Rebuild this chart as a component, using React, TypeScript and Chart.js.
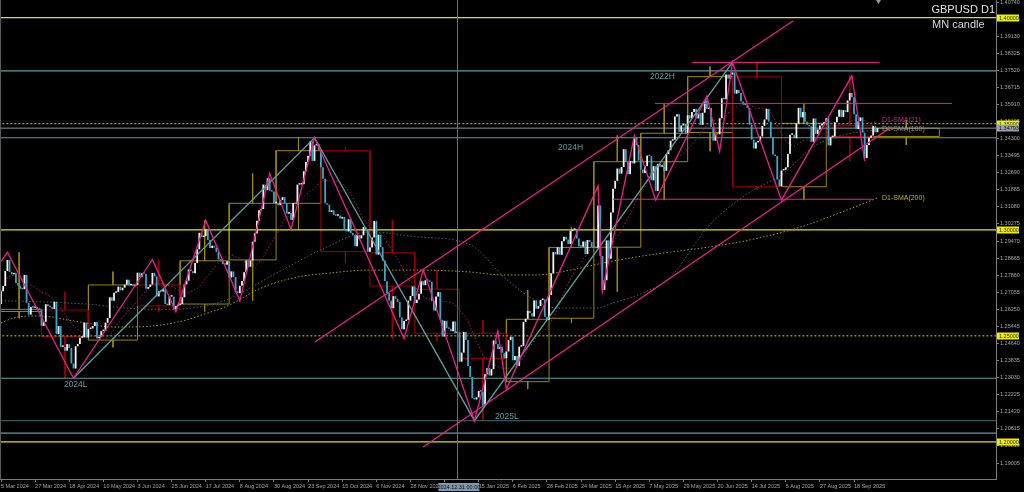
import React, { useEffect, useRef } from 'react';
import { Chart, registerables } from 'chart.js';

Chart.register(...registerables);

// ---------------- DATA ----------------
const firstOpen = 1.265;
const closesMar2024 = [1.2710,1.2735,1.2806,1.2858,1.2801,1.2790,1.2797,1.2749,1.2737,1.2722,1.2720,1.2787,1.2656,1.2600,1.2636,1.2632,1.2637,1.2624,1.2623];
const closesApr2024 = [1.2547,1.2566,1.2649,1.2640,1.2635,1.2627,1.2661,1.2508,1.2546,1.2448,1.2448,1.2430,1.2461,1.2443,1.2370,1.2346,1.2451,1.2462,1.2491,1.2493,1.2562,1.2492];
const closesMay2024 = [1.2532,1.2535,1.2546,1.2565,1.2489,1.2494,1.2522,1.2524,1.2562,1.2584,1.2682,1.2665,1.2703,1.2707,1.2732,1.2715,1.2727,1.2741,1.2765,1.2738,1.2742,1.2734,1.2740];
const closesJun2024 = [1.2798,1.2777,1.2795,1.2793,1.2722,1.2730,1.2742,1.2797,1.2780,1.2686,1.2710,1.2709,1.2720,1.2650,1.2645,1.2685,1.2685,1.2625,1.2641,1.2645];
const closesJul2024 = [1.2650,1.2682,1.2743,1.2760,1.2813,1.2805,1.2795,1.2843,1.2908,1.2986,1.2966,1.2970,1.3002,1.2952,1.2914,1.2925,1.2916,1.2895,1.2860,1.2854,1.2838,1.2835,1.2852];
const closesAug2024 = [1.2775,1.2804,1.2777,1.2705,1.2702,1.2736,1.2759,1.2800,1.2856,1.2826,1.2856,1.2944,1.2983,1.3043,1.3092,1.3098,1.3213,1.3187,1.3243,1.3184,1.3180,1.3125];
const closesSep2024 = [1.3126,1.3116,1.3140,1.3154,1.3126,1.3076,1.3079,1.3046,1.3126,1.3121,1.3213,1.3214,1.3215,1.3276,1.3320,1.3349,1.3417,1.3325,1.3398,1.3404,1.3375];
const closesOct2024 = [1.3295,1.3241,1.3125,1.3118,1.3084,1.3092,1.3070,1.3066,1.3068,1.3053,1.3061,1.2997,1.2992,1.3050,1.2985,1.2976,1.2922,1.2975,1.2959,1.2974,1.3013,1.3002,1.2897];
const closesNov2024 = [1.2917,1.2964,1.3042,1.2883,1.2977,1.2918,1.2855,1.2758,1.2702,1.2666,1.2630,1.2687,1.2675,1.2660,1.2587,1.2531,1.2570,1.2575,1.2666,1.2688,1.2733];
const closesDec2024 = [1.2655,1.2671,1.2699,1.2758,1.2739,1.2762,1.2760,1.2755,1.2664,1.2619,1.2685,1.2706,1.2576,1.2497,1.2571,1.2536,1.2533,1.2522,1.2568,1.2513,1.2516];
const closesJan2025 = [1.2378,1.2421,1.2518,1.2481,1.2358,1.2306,1.2206,1.2200,1.2210,1.2240,1.2237,1.2170,1.2319,1.2348,1.2313,1.2343,1.2478,1.2461,1.2438,1.2449,1.2420,1.2394];
const closesFeb2025 = [1.2426,1.2480,1.2496,1.2385,1.2405,1.2359,1.2449,1.2453,1.2566,1.2581,1.2618,1.2607,1.2591,1.2667,1.2628,1.2640,1.2669,1.2672,1.2590,1.2576];
const closesMar2025 = [1.2693,1.2795,1.2895,1.2884,1.2917,1.2882,1.2946,1.2967,1.2954,1.2933,1.2994,1.3000,1.3000,1.2959,1.2921,1.2920,1.2945,1.2885,1.2952,1.2942,1.2918];
const closesApr2025 = [1.2914,1.2913,1.3115,1.2877,1.2717,1.2762,1.2950,1.2864,1.3082,1.3194,1.3231,1.3289,1.3265,1.3296,1.3380,1.3320,1.3262,1.3324,1.3313,1.3434,1.3400,1.3327];
const closesMay2025 = [1.3284,1.3268,1.3300,1.3350,1.3347,1.3233,1.3300,1.3183,1.3310,1.3297,1.3302,1.3278,1.3357,1.3375,1.3420,1.3425,1.3534,1.3545,1.3462,1.3492,1.3500,1.3455];
const closesJun2025 = [1.3540,1.3525,1.3555,1.3570,1.3525,1.3550,1.3495,1.3552,1.3610,1.3570,1.3575,1.3485,1.3420,1.3456,1.3450,1.3526,1.3620,1.3615,1.3732,1.3713,1.3732];
const closesJul2025 = [1.3742,1.3642,1.3660,1.3645,1.3605,1.3590,1.3590,1.3575,1.3495,1.3425,1.3383,1.3412,1.3417,1.3440,1.3490,1.3520,1.3570,1.3510,1.3435,1.3355,1.3348,1.3237,1.3205];
const closesAug2025 = [1.3280,1.3283,1.3295,1.3358,1.3448,1.3448,1.3432,1.3501,1.3575,1.3530,1.3555,1.3509,1.3495,1.3488,1.3415,1.3525,1.3452,1.3473,1.3492,1.3500,1.3508];
const closesSep2025 = [1.3526,1.3398,1.3437,1.3440,1.3507,1.3533,1.3566,1.3532,1.3564,1.3555,1.3610,1.3645,1.3625,1.3545,1.3475,1.3512,1.3530,1.3458,1.3338,1.3400,1.3434,1.3445];
const closesOct2025 = [1.3490,1.3460,1.3479];

const dailyCloses = [
  ...closesMar2024, ...closesApr2024, ...closesMay2024, ...closesJun2024, ...closesJul2024,
  ...closesAug2024, ...closesSep2024, ...closesOct2024, ...closesNov2024, ...closesDec2024,
  ...closesJan2025, ...closesFeb2025, ...closesMar2025, ...closesApr2025, ...closesMay2025,
  ...closesJun2025, ...closesJul2025, ...closesAug2025, ...closesSep2025, ...closesOct2025,
];

// x tick labels every 16 bars
const dateTickLabels = ['5 Mar 2024','27 Mar 2024','18 Apr 2024','10 May 2024','3 Jun 2024','25 Jun 2024','17 Jul 2024','8 Aug 2024','30 Aug 2024','23 Sep 2024','15 Oct 2024','6 Nov 2024','28 Nov 2024','20 Dec 2024','15 Jan 2025','6 Feb 2025','28 Feb 2025','24 Mar 2025','15 Apr 2025','7 May 2025','29 May 2025','20 Jun 2025','14 Jul 2025','5 Aug 2025','27 Aug 2025','18 Sep 2025'];
const dateTickStep = 16;

const priceTicks = [1.40740,1.39935,1.39130,1.38325,1.37520,1.36715,1.35910,1.35105,1.34300,1.33495,1.32690,1.31885,1.31080,1.30275,1.29470,1.28665,1.27860,1.27055,1.26250,1.25445,1.24640,1.23835,1.23030,1.22225,1.21420,1.20615,1.19810,1.19005];

// monthly (MN) candles: first-bar boundaries and OHLC
const mnBounds = [-2,19,41,64,84,107,129,150,173,194,215,237,257,278,300,322,343,366,387,409,440];
const mnOpen  = [1.2615,1.2622,1.2480,1.2740,1.2650,1.2858,1.3125,1.3373,1.2892,1.2720,1.2512,1.2284,1.2583,1.2918,1.3321,1.3459,1.3721,1.3203,1.3490,1.3440];
const mnHigh  = [1.2894,1.2708,1.2803,1.2860,1.3044,1.3266,1.3434,1.3389,1.3046,1.2811,1.2575,1.2716,1.3014,1.3445,1.3593,1.3770,1.3789,1.3595,1.3726,1.3518];
const mnLow   = [1.2583,1.2300,1.2446,1.2613,1.2615,1.2665,1.3001,1.2844,1.2487,1.2475,1.2100,1.2249,1.2560,1.2708,1.3140,1.3370,1.3188,1.3140,1.3324,1.3400];
const mnClose = [1.2625,1.2496,1.2740,1.2641,1.2854,1.3125,1.3373,1.2897,1.2735,1.2512,1.2394,1.2578,1.2917,1.3321,1.3455,1.3722,1.3203,1.3502,1.3440,1.3479];

// zigzags
const zigzagIdx   = [0,3,34,71,82,96,112,126,136,147,189,198,222,233,237,280,282,297,307,331,337,343,366,399,405];
const zigzagPrice = [1.2850,1.2894,1.2300,1.2860,1.2614,1.3044,1.2665,1.3266,1.3002,1.3434,1.2487,1.2811,1.2100,1.2523,1.2249,1.3207,1.2708,1.3445,1.3140,1.3631,1.3370,1.3789,1.3140,1.3726,1.3324];
const majorZigzagIdx   = [34,147,222,343];
const majorZigzagPrice = [1.2300,1.3434,1.2100,1.3789];

// channel lines
const upperChannelIdx = [147.2, 371.5];
const upperChannelPrice = [1.2471, 1.3986];
const lowerChannelIdx = [197.9, 417.7];
const lowerChannelPrice = [1.1976, 1.3486];

// horizontal pivot segments (magenta)
const pivotSegFrom  = [324, 306.7, 287];
const pivotSegTo    = [412, 446, 409];
const pivotSegPrice = [1.3789, 1.3596, 1.3144];

// levels
const roundLevelsSolid = [1.40, 1.30, 1.20];
const roundLevelsDotted = [1.35, 1.25];
const keyLevelNames  = ['2022H', '2024H', '2024L', '2025L', ''];
const keyLevelPrices = [1.3749, 1.3434, 1.2300, 1.2100, 1.2041];
const currentPrice = 1.34793;

// moving averages (sparse reads for 100 / 200)
const sma100Idx = [0,20,40,60,80,95,106,112,130,150,173,195,220,236,248,261,279,287,301,314,332,350,367,381,395,411];
const sma100Val = [1.2665,1.2660,1.2650,1.2630,1.2625,1.2640,1.2670,1.2700,1.2800,1.2905,1.2990,1.2967,1.2930,1.2776,1.2683,1.2631,1.2631,1.2655,1.2702,1.2778,1.3020,1.3170,1.3266,1.3392,1.3447,1.3472];
const sma200Idx = [0,6,15,24,31,40,51,62,75,87,97,106,123,139,154,173,195,220,235,251,267,282,298,314,332,351,375,393,411];
const sma200Val = [1.2561,1.2584,1.2594,1.2589,1.2575,1.2561,1.2542,1.2542,1.2551,1.2575,1.2608,1.2640,1.2730,1.2777,1.2796,1.2810,1.2810,1.2801,1.2787,1.2787,1.2810,1.2843,1.2872,1.2895,1.2919,1.2952,1.3013,1.3079,1.3150];

const crosshairIdx = 214;
const crosshairLabel = '2024.12.31 00:00';

// ---------------- STYLE ----------------
const FONT = '"Liberation Sans", Arial, sans-serif';
const COLORS = {
  bg: '#000000',
  axis: '#7d7d7d',
  tickText: '#a4a4a4',
  bull: '#f4f4f4',
  bear: '#38a7c9',
  yellow: '#e4e400',
  yellowDot: '#c8c800',
  teal: '#5f9ea0',
  tealDark: '#33585c',
  magenta: '#e8218a',
  mnBull: '#9c8800',
  mnBear: '#a00000',
  sma21: '#a3205f',
  sma100: '#3d6a6a',
  sma200: '#a89a00',
  price: '#8a949c',
  crosshair: '#7c7c00',
};

const X_PX_PER_BAR = 2.1325;
const X_MIN = -1 / X_PX_PER_BAR;
const X_MAX = X_MIN + 996 / X_PX_PER_BAR;
const Y_MAX = 1.408345;
const Y_MIN = 1.182508;

// ---------------- DERIVED ----------------
const candleData = dailyCloses.map((c, i) => ({ x: i, y: [i === 0 ? firstOpen : dailyCloses[i - 1], c] }));
const candleColors = dailyCloses.map((c, i) => (c >= (i === 0 ? firstOpen : dailyCloses[i - 1]) ? COLORS.bull : COLORS.bear));
const sma21 = dailyCloses.map((_, i) => {
  const w = dailyCloses.slice(Math.max(0, i - 20), i + 1);
  return w.reduce((a, b) => a + b, 0) / w.length;
});

function mnPath(bull: boolean) {
  const pts: any[] = [];
  for (let m = 0; m < mnOpen.length; m++) {
    const o = mnOpen[m], c = mnClose[m];
    if ((c >= o) !== bull) continue;
    const s = mnBounds[m], e = mnBounds[m + 1], mid = (s + e) / 2;
    const top = Math.max(o, c), bot = Math.min(o, c);
    pts.push({ x: s, y: o }, { x: e, y: o }, { x: e, y: c }, { x: s, y: c }, { x: s, y: o }, { x: s, y: null });
    pts.push({ x: mid, y: mnHigh[m] }, { x: mid, y: top }, { x: mid, y: null });
    pts.push({ x: mid, y: bot }, { x: mid, y: mnLow[m] }, { x: mid, y: null });
  }
  return pts;
}

const lineDs = (data: any[], color: string, width: number, order: number, dash: number[] = [], extra: any = {}) => ({
  type: 'line', data, borderColor: color, borderWidth: width, borderDash: dash,
  pointRadius: 0, fill: false, tension: 0, order, spanGaps: false, ...extra,
});
const hLine = (p: number, color: string, width: number, order: number, dash: number[] = []) =>
  lineDs([{ x: -5, y: p }, { x: 480, y: p }], color, width, order, dash);

function buildDatasets() {
  const ds: any[] = [];
  ds.push(lineDs(mnPath(false), COLORS.mnBear, 1, 20));
  ds.push(lineDs(mnPath(true), COLORS.mnBull, 1, 20));
  roundLevelsSolid.forEach((p) => ds.push(hLine(p, COLORS.yellow, 1.2, 15)));
  roundLevelsDotted.forEach((p) => ds.push(hLine(p, COLORS.yellowDot, 1, 15, [2, 2])));
  keyLevelPrices.forEach((p, i) => ds.push(hLine(p, i === 3 ? COLORS.tealDark : COLORS.teal, 1.2, 15)));
  ds.push(hLine(currentPrice, COLORS.price, 1, 15));
  ds.push(lineDs(sma200Idx.map((x, i) => ({ x, y: sma200Val[i] })), COLORS.sma200, 1, 12, [1.5, 2], { cubicInterpolationMode: 'monotone' }));
  ds.push(lineDs(sma100Idx.map((x, i) => ({ x, y: sma100Val[i] })), COLORS.sma100, 1, 12, [1.5, 2], { cubicInterpolationMode: 'monotone' }));
  ds.push(lineDs(sma21.map((y, x) => ({ x, y })), COLORS.sma21, 1, 12, [1.5, 2]));
  ds.push({
    type: 'bar', data: candleData, backgroundColor: candleColors, borderWidth: 0,
    barThickness: 1.8, inflateAmount: 0, minBarLength: 1.5, order: 5,
  });
  pivotSegPrice.forEach((p, i) => ds.push(lineDs([{ x: pivotSegFrom[i], y: p }, { x: pivotSegTo[i], y: p }], COLORS.magenta, 1, 3)));
  ds.push(lineDs(majorZigzagIdx.map((x, i) => ({ x, y: majorZigzagPrice[i] })), COLORS.teal, 1.3, 2));
  ds.push(lineDs(upperChannelIdx.map((x, i) => ({ x, y: upperChannelPrice[i] })), COLORS.magenta, 1.3, 1));
  ds.push(lineDs(lowerChannelIdx.map((x, i) => ({ x, y: lowerChannelPrice[i] })), COLORS.magenta, 1.3, 1));
  ds.push(lineDs(zigzagIdx.map((x, i) => ({ x, y: zigzagPrice[i] })), COLORS.magenta, 1.3, 1));
  return ds;
}

const levelLabelIdx = [304.3, 261.2, 29.5, 231.7];
const levelLabelDy = [6, 10, 6, -4.5];

const overlayPlugin = {
  id: 'overlay',
  beforeDraw(chart: any) {
    const { ctx, width, height } = chart;
    ctx.save();
    ctx.fillStyle = COLORS.bg;
    ctx.fillRect(0, 0, width, height);
    ctx.restore();
  },
  afterDatasetsDraw(chart: any) {
    const { ctx, chartArea } = chart;
    const xs = chart.scales.x, ys = chart.scales.y;
    ctx.save();
    // crosshair
    const cx = Math.round(xs.getPixelForValue(crosshairIdx)) + 0.5;
    ctx.strokeStyle = COLORS.crosshair;
    ctx.lineWidth = 1;
    ctx.beginPath();
    ctx.moveTo(cx, chartArea.top);
    ctx.lineTo(cx, chartArea.bottom);
    ctx.stroke();
    // level labels
    ctx.font = `8.5px ${FONT}`;
    ctx.textAlign = 'left';
    ctx.textBaseline = 'middle';
    ctx.fillStyle = COLORS.teal;
    for (let i = 0; i < levelLabelIdx.length; i++) {
      ctx.fillText(keyLevelNames[i], xs.getPixelForValue(levelLabelIdx[i]), ys.getPixelForValue(keyLevelPrices[i]) + levelLabelDy[i]);
    }
    // SMA labels
    ctx.font = `7px ${FONT}`;
    const lx = xs.getPixelForValue(413.1);
    ctx.fillStyle = '#d02a84';
    ctx.fillText('D1-SMA(21)', lx, ys.getPixelForValue(sma21[sma21.length - 1]) - 2);
    ctx.fillStyle = '#8e8e8e';
    ctx.fillText('D1-SMA(100)', lx, ys.getPixelForValue(sma100Val[sma100Val.length - 1]) - 1);
    ctx.fillStyle = '#c8b000';
    ctx.fillText('D1-SMA(200)', lx, ys.getPixelForValue(sma200Val[sma200Val.length - 1]));
    ctx.restore();
  },
  afterDraw(chart: any) {
    const { ctx, chartArea } = chart;
    const xs = chart.scales.x, ys = chart.scales.y;
    ctx.save();
    // left border
    ctx.strokeStyle = '#5a5a5a';
    ctx.lineWidth = 1;
    ctx.beginPath();
    ctx.moveTo(0.5, 0);
    ctx.lineTo(0.5, chartArea.bottom);
    ctx.stroke();
    // price boxes on axis
    ctx.font = `5.5px ${FONT}`;
    ctx.textAlign = 'left';
    ctx.textBaseline = 'middle';
    const box = (p: number, bg: string, fg: string) => {
      const y = ys.getPixelForValue(p);
      ctx.fillStyle = bg;
      ctx.fillRect(chartArea.right + 1, Math.round(y) - 3.5, 22, 7);
      ctx.fillStyle = fg;
      ctx.fillText(p.toFixed(5), chartArea.right + 3, y + 0.3);
    };
    [...roundLevelsSolid, ...roundLevelsDotted].forEach((p) => box(p, '#eeee00', '#2a2a00'));
    box(currentPrice, '#9aa3ab', '#101010');
    // cursor time label
    const cx = xs.getPixelForValue(crosshairIdx);
    ctx.fillStyle = '#8296ad';
    ctx.fillRect(cx - 19, chartArea.bottom + 4, 41, 8);
    ctx.fillStyle = '#0c0c0c';
    ctx.textAlign = 'center';
    ctx.fillText(crosshairLabel, cx + 1.5, chartArea.bottom + 8.3);
    // shift marker triangle
    const tx = xs.getPixelForValue(411.5);
    ctx.fillStyle = '#9a9a9a';
    ctx.beginPath();
    ctx.moveTo(tx - 2.5, 0);
    ctx.lineTo(tx + 2.5, 0);
    ctx.lineTo(tx, 4);
    ctx.closePath();
    ctx.fill();
    // title
    ctx.fillStyle = '#e6e6e6';
    ctx.font = `11px ${FONT}`;
    ctx.textBaseline = 'alphabetic';
    ctx.textAlign = 'right';
    ctx.fillText('GBPUSD D1', chartArea.right - 1, 13.3);
    ctx.textAlign = 'left';
    ctx.fillStyle = '#d8d8d8';
    ctx.fillText('MN candle', chartArea.right - 64, 28);
    ctx.restore();
  },
};

export default function App() {
  const ref = useRef<HTMLCanvasElement>(null);
  useEffect(() => {
    document.body.style.margin = '0';
    document.body.style.background = '#000';
    const canvas = ref.current as HTMLCanvasElement;
    const chart = new Chart(canvas, {
      type: 'bar',
      data: { datasets: buildDatasets() },
      options: {
        animation: false,
        responsive: false,
        maintainAspectRatio: false,
        devicePixelRatio: 1,
        events: [],
        layout: { padding: 0 },
        plugins: { legend: { display: false }, tooltip: { enabled: false } },
        scales: {
          x: {
            type: 'linear', position: 'bottom', min: X_MIN, max: X_MAX, bounds: 'data', offset: false,
            grid: { display: true, drawOnChartArea: false, drawTicks: true, tickLength: 3, color: COLORS.axis, offset: false },
            border: { display: true, color: COLORS.axis, width: 1 },
            ticks: {
              autoSkip: false, maxRotation: 0, minRotation: 0, align: 'start', padding: 1.5,
              color: COLORS.tickText, font: { family: FONT, size: 5.5 },
              callback: (_v: any, i: number) => dateTickLabels[i] ?? '',
            },
            afterBuildTicks: (s: any) => { s.ticks = dateTickLabels.map((_, i) => ({ value: i * dateTickStep })); },
            afterFit: (s: any) => { s.height = 13; s.paddingLeft = 0; s.paddingRight = 0; s.paddingTop = 0; s.paddingBottom = 0; },
          },
          y: {
            type: 'linear', position: 'right', min: Y_MIN, max: Y_MAX, bounds: 'data',
            grid: { display: true, drawOnChartArea: false, drawTicks: true, tickLength: 3, color: COLORS.axis },
            border: { display: true, color: COLORS.axis, width: 1 },
            ticks: {
              autoSkip: false, padding: 1, color: COLORS.tickText, font: { family: FONT, size: 5.5 },
              callback: (v: any) => Number(v).toFixed(5),
            },
            afterBuildTicks: (s: any) => { s.ticks = priceTicks.map((v) => ({ value: v })); },
            afterFit: (s: any) => { s.width = 28; s.paddingLeft = 0; s.paddingRight = 0; s.paddingTop = 0; s.paddingBottom = 0; },
          },
        },
      } as any,
      plugins: [overlayPlugin],
    } as any);
    return () => chart.destroy();
  }, []);
  return (
    <div style={{ position: 'absolute', left: 0, top: 0, width: 1024, height: 492, background: '#000' }}>
      <canvas ref={ref} width={1024} height={492} style={{ display: 'block', width: 1024, height: 492 }} />
    </div>
  );
}
